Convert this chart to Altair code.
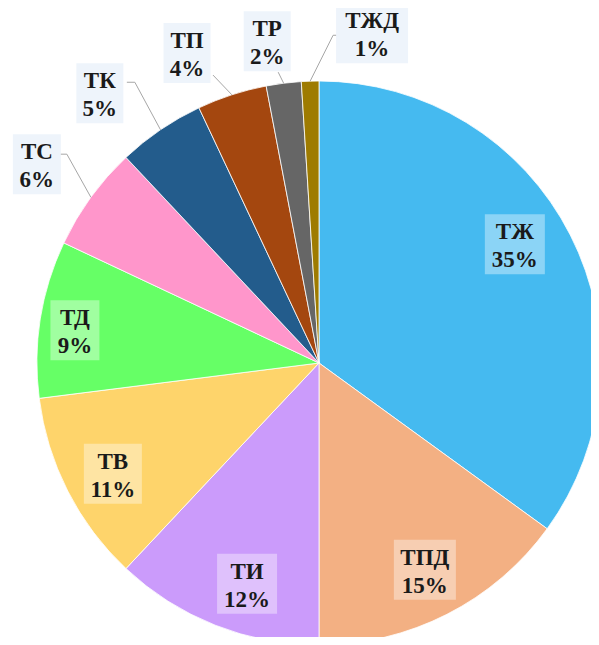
import math
import altair as alt
import pandas as pd

# ---- data ----
categories = ["ТЖ", "ТПД", "ТИ", "ТВ", "ТД", "ТС", "ТК", "ТП", "ТР", "ТЖД"]
shares = [35, 15, 12, 11, 9, 6, 5, 4, 2, 1]
colors = ["#45BAF0", "#F3B083", "#CB9BFB", "#FED46B", "#66FF66",
          "#FF96CB", "#235C8C", "#A4470F", "#666666", "#9E7B00"]

# ---- label layout (degrees clockwise from top, radius in px) ----
label_angle = [59.2, 153.1, 197.9, 241.3, 277.2, 304.9, 320.7, 336.8, 350.8, 9.2]
label_radius = [228, 234, 234, 235, 246, 344, 346, 335, 324, 332]
label_outside = [False] * 5 + [True] * 5
box_width = [60, 62, 60, 58, 49, 48, 47, 47, 47, 72]
# leader line points, offsets from the label centre (px, y down)
leader_points = {
    "ТС": [(21, -12), (30, -12)],
    "ТК": [(27, -13), (35, -13)],
    "ТП": [(26, 20)],
    "ТР": [(11, 29)],
    "ТЖД": [(-29, 0), (-39, 0)],
}

W, H = 583, 629
CX, CY = 311, 355
R = 282

xs = alt.Scale(domain=[-CX, W - CX], range=[0, W], nice=False, zero=False)
ys = alt.Scale(domain=[CY - H, CY], range=[H, 0], nice=False, zero=False)

pie_df = pd.DataFrame({"cat": categories, "share": shares, "idx": range(len(categories))})

rows = []
for i, c in enumerate(categories):
    a = math.radians(label_angle[i])
    lx = label_radius[i] * math.sin(a)
    ly = label_radius[i] * math.cos(a)
    bw = box_width[i] / 2
    rows.append({
        "cat": c, "x": lx, "y": ly,
        "x1": lx - bw, "x2": lx + bw, "y1": ly + 2 - 30, "y2": ly + 2 + 30,
        "text": f"{c}\n{shares[i]}%",
        "fill": "#EEF4FB" if label_outside[i] else "#FFFFFF",
        "op": 1.0 if label_outside[i] else 0.38,
    })
lab_df = pd.DataFrame(rows)

# leader lines
cum = 0
mids = {}
for c, s in zip(categories, shares):
    mids[c] = (cum + s / 2) / 100 * 360
    cum += s
lrows = []
for i, c in enumerate(categories):
    if c not in leader_points:
        continue
    cx0, cy0 = rows[i]["x"], rows[i]["y"]
    k = 0
    for dx, dy in leader_points[c]:
        lrows.append({"cat": c, "k": k, "x": cx0 + dx, "y": cy0 - dy})
        k += 1
    a = math.radians(mids[c])
    lrows.append({"cat": c, "k": k, "x": R * math.sin(a), "y": R * math.cos(a)})
lead_df = pd.DataFrame(lrows)

pie = alt.Chart(pie_df).mark_arc(outerRadius=R, stroke="white", strokeWidth=0.8).encode(
    theta=alt.Theta("share:Q", stack=True),
    color=alt.Color("cat:N", scale=alt.Scale(domain=categories, range=colors), legend=None),
    order=alt.Order("idx:Q"),
    x=alt.value(CX),
    y=alt.value(CY),
)

leaders = alt.Chart(lead_df).mark_line(color="#A6A6A6", strokeWidth=1).encode(
    x=alt.X("x:Q", scale=xs, axis=None),
    y=alt.Y("y:Q", scale=ys, axis=None),
    detail="cat:N",
    order="k:Q",
)

boxes = alt.Chart(lab_df).mark_rect().encode(
    x=alt.X("x1:Q", scale=xs, axis=None),
    x2="x2:Q",
    y=alt.Y("y1:Q", scale=ys, axis=None),
    y2="y2:Q",
    fill=alt.Fill("fill:N", scale=None),
    opacity=alt.Opacity("op:Q", scale=None),
)

texts = alt.Chart(lab_df).mark_text(
    font="Liberation Serif", fontWeight="bold", fontSize=23, lineBreak="\n",
    lineHeight=28, align="center", baseline="middle", color="#1A1A1A", dy=-14,
).encode(
    x=alt.X("x:Q", scale=xs, axis=None),
    y=alt.Y("y:Q", scale=ys, axis=None),
    text="text:N",
)

chart = alt.layer(pie, leaders, boxes, texts).properties(
    width=W, height=H, autosize="none", padding=0, background="white"
).configure_view(stroke=None)

chart.save("out.html", embed_options={"renderer": "svg", "actions": False})
